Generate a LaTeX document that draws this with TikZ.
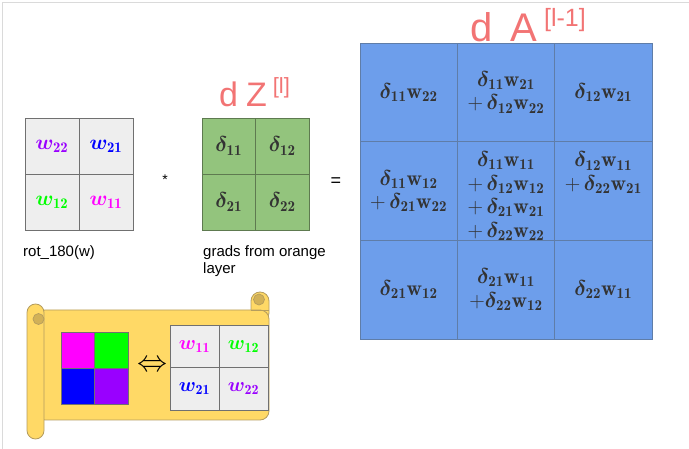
\RequirePackage{fix-cm}
\documentclass[tikz,border=0pt]{standalone}
\usepackage{amsmath,bm}
\usepackage{fontspec}
\newfontfamily\arialf{Liberation Sans}
\definecolor{bfill}{HTML}{6D9EEB}
\definecolor{bline}{HTML}{5F7DA8}
\definecolor{gfill}{HTML}{93C47D}
\definecolor{gline}{HTML}{5E7A50}
\definecolor{cfill}{HTML}{EEEEEE}
\definecolor{cline}{HTML}{707070}
\definecolor{txt}{HTML}{333333}
\definecolor{scrfill}{HTML}{FFD966}
\definecolor{scrline}{HTML}{B59D5E}
\definecolor{scrdark}{HTML}{D2B157}
\definecolor{penred}{HTML}{F27474}
\definecolor{frameg}{HTML}{DADADA}
\definecolor{wmag}{HTML}{FF00FF}
\definecolor{wgrn}{HTML}{00FF00}
\definecolor{wblu}{HTML}{0000FF}
\definecolor{wpur}{HTML}{9900FF}
\newcommand\mydel[1]{\bm{\delta}_{\mathbf{#1}}}
\newcommand\myw[1]{\mathbf{w}_{\mathbf{#1}}}
\newcommand\wit[1]{\bm{w}_{\mathbf{#1}}}
\begin{document}
\begin{tikzpicture}[x=1pt,y=-1pt,
  bcell/.style={draw=bline, fill=bfill, line width=0.8pt, minimum width=97.33pt, minimum height=98.67pt, inner sep=0pt, align=center, text=txt, font=\fontsize{21.5}{23.5}\selectfont},
  btext/.style={inner sep=0pt, align=center, text=txt, font=\fontsize{21.5}{23.5}\selectfont},
  gcell/.style={draw=gline, fill=gfill, line width=0.8pt, minimum width=53.5pt, minimum height=56pt, inner sep=0pt, text=txt, font=\fontsize{21.5}{23}\selectfont},
  wcell/.style={draw=cline, fill=cfill, line width=0.8pt, minimum width=54pt, minimum height=56pt, inner sep=0pt, font=\fontsize{21}{23}\selectfont},
  scell/.style={draw=cline, fill=cfill, line width=0.8pt, minimum width=49pt, minimum height=42.5pt, inner sep=0pt, font=\fontsize{20}{22}\selectfont},
  ccell/.style={draw=cline, line width=0.5pt, minimum width=33.5pt, minimum height=36pt, inner sep=0pt},
  lbl/.style={font=\arialf\fontsize{15}{17}\selectfont, text=black, inner sep=0pt},
  pen/.style={text=penred, inner sep=0pt, font=\arialf},
  scr/.style={fill=scrfill, draw=scrline, line width=0.8pt}
]
\useasboundingbox (0,0) rectangle (689,449);
% frame lines
\draw[frameg, line width=1pt] (689,3) -- (2,3) -- (2,449);

% rot_180(w) grid
\node[wcell] (r11) at (52,146) {$\color{wpur}\wit{22}$};
\node[wcell] (r12) at (106,146) {$\color{wblu}\wit{21}$};
\node[wcell] (r21) at (52,202) {$\color{wgrn}\wit{12}$};
\node[wcell] (r22) at (106,202) {$\color{wmag}\wit{11}$};
\node[lbl, anchor=west] (rotlbl) at (23,253) {rot\_180(w)};
\node[font=\arialf\fontsize{14}{14}\selectfont, inner sep=0pt] (star) at (165,180) {*};

% dZ grid
\node[gcell] (g11) at (228.75,146) {$\mydel{11}$};
\node[gcell] (g12) at (282.25,146) {$\mydel{12}$};
\node[gcell] (g21) at (228.75,202) {$\mydel{21}$};
\node[gcell] (g22) at (282.25,202) {$\mydel{22}$};
\node[lbl, anchor=north west, align=left] (gradlbl) at (203,245) {grads from orange\\layer};
\node[font=\arialf\fontsize{18}{18}\selectfont, inner sep=0pt] (eq) at (336,182) {=};
\node[pen, anchor=base west, font=\arialf\fontsize{34}{34}\selectfont] (dz) at (219,107) {d\hspace{8pt}Z\hspace{6pt}\raisebox{13pt}{\fontsize{22}{22}\selectfont[l]}};

% dA grid
\node[bcell] (a11) at (408.67,92.33) {$\mydel{11}\myw{22}$};
\node[bcell] (a12) at (506,92.33) {$\mydel{11}\myw{21}$\\$+\,\mydel{12}\myw{22}$};
\node[bcell] (a13) at (603.33,92.33) {$\mydel{12}\myw{21}$};
\node[bcell] (a21) at (408.67,191) {$\mydel{11}\myw{12}$\\$+\,\mydel{21}\myw{22}$};
\node[bcell] (a22) at (506,191) {};
\node[btext] (a22t) at (506,196) {$\mydel{11}\myw{11}$\\$+\,\mydel{12}\myw{12}$\\$+\,\mydel{21}\myw{21}$\\$+\,\mydel{22}\myw{22}$};
\node[bcell] (a23) at (603.33,191) {$\mydel{12}\myw{11}$\\$+\,\mydel{22}\myw{21}$\\[16pt]};
\node[bcell] (a31) at (408.67,289.67) {$\mydel{21}\myw{12}$};
\node[bcell] (a32) at (506,289.67) {$\mydel{21}\myw{11}$\\$+\mydel{22}\myw{12}$};
\node[bcell] (a33) at (603.33,289.67) {$\mydel{22}\myw{11}$};
\node[pen, anchor=base west, font=\arialf\fontsize{40}{40}\selectfont] (da) at (470,42) {d\hspace{18pt}A\hspace{7pt}\raisebox{15pt}{\fontsize{25}{25}\selectfont[l-1]}};

% scroll
\draw[scr, rounded corners=9pt] (251,292) rectangle (269,322);
\draw[scr, rounded corners=9pt] (36,310) rectangle (269,420);
\draw[scr, rounded corners=8.5pt] (27,304) rectangle (44,439);
\draw[fill=scrdark, draw=scrline, line width=0.7pt] (38.5,319) circle [radius=5.5];
\draw[fill=scrdark, draw=scrline, line width=0.7pt] (259,299.5) circle [radius=5.5];
\draw[scrline, line width=0.8pt] (251,310) -- (269,310);

% colour square
\node[ccell, fill=wmag] (c11) at (77.75,350) {};
\node[ccell, fill=wgrn] (c12) at (111.25,350) {};
\node[ccell, fill=wblu] (c21) at (77.75,386) {};
\node[ccell, fill=wpur] (c22) at (111.25,386) {};
\node[font=\fontsize{30}{30}\selectfont, inner sep=0pt] (equiv) at (152,366) {$\Leftrightarrow$};

% w grid in scroll
\node[scell] (s11) at (194.5,346.25) {$\color{wmag}\wit{11}$};
\node[scell] (s12) at (243.5,346.25) {$\color{wgrn}\wit{12}$};
\node[scell] (s21) at (194.5,388.75) {$\color{wblu}\wit{21}$};
\node[scell] (s22) at (243.5,388.75) {$\color{wpur}\wit{22}$};
\end{tikzpicture}
\end{document}
